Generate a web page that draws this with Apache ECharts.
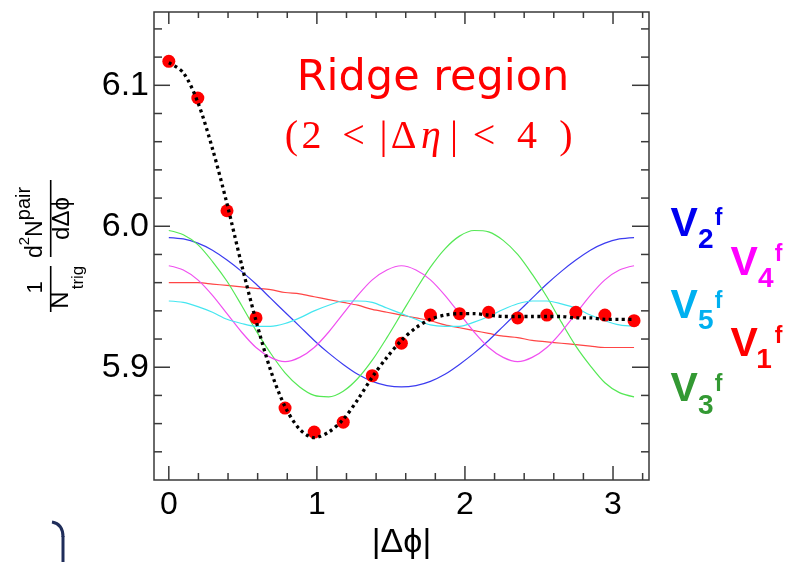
<!DOCTYPE html>
<html>
<head>
<meta charset="utf-8">
<script src="https://cdn.jsdelivr.net/npm/echarts@6/dist/echarts.min.js"></script>
<style>html,body{margin:0;padding:0;background:#fff;}#c{width:785px;height:562px;}</style>
</head>
<body>
<div id="c"></div>
<script>
// ---- data ----
// measured points (red markers)
const phiPoints = [0, 0.196, 0.393, 0.589, 0.785, 0.982, 1.178, 1.374, 1.571, 1.767, 1.963, 2.160, 2.356, 2.553, 2.749, 2.945, 3.142];
const measured = [6.117, 6.091, 6.011, 5.935, 5.871, 5.854, 5.861, 5.894, 5.917, 5.937, 5.938, 5.939, 5.935, 5.937, 5.939, 5.937, 5.933];
// curves, read at finer |Δφ| steps
const phiCurve = [0, 0.098, 0.196, 0.295, 0.393, 0.491, 0.589, 0.687, 0.785, 0.884, 0.982, 1.080, 1.178, 1.276, 1.374, 1.473, 1.571, 1.669, 1.767, 1.865, 1.963, 2.062, 2.160, 2.258, 2.356, 2.454, 2.553, 2.651, 2.749, 2.847, 2.945, 3.043, 3.142];
const fitCurve = [6.116, 6.109, 6.088, 6.055, 6.016, 5.973, 5.933, 5.898, 5.872, 5.856, 5.850, 5.854, 5.863, 5.877, 5.893, 5.907, 5.919, 5.928, 5.934, 5.937, 5.938, 5.938, 5.937, 5.936, 5.936, 5.936, 5.936, 5.936, 5.935, 5.935, 5.934, 5.934, 5.934];
const v1f = [5.960, 5.960, 5.960, 5.959, 5.958, 5.957, 5.956, 5.955, 5.953, 5.952, 5.950, 5.948, 5.946, 5.944, 5.941, 5.939, 5.937, 5.935, 5.933, 5.930, 5.928, 5.926, 5.924, 5.922, 5.921, 5.919, 5.918, 5.917, 5.916, 5.915, 5.914, 5.914, 5.914];
const v2f = [5.992, 5.991, 5.988, 5.983, 5.976, 5.968, 5.959, 5.949, 5.939, 5.929, 5.919, 5.910, 5.902, 5.895, 5.890, 5.887, 5.886, 5.887, 5.890, 5.895, 5.902, 5.910, 5.919, 5.929, 5.939, 5.949, 5.959, 5.968, 5.976, 5.983, 5.988, 5.991, 5.992];
const v3f = [5.997, 5.994, 5.987, 5.975, 5.961, 5.944, 5.926, 5.910, 5.896, 5.886, 5.880, 5.879, 5.883, 5.892, 5.905, 5.921, 5.938, 5.955, 5.971, 5.984, 5.993, 5.997, 5.996, 5.990, 5.980, 5.966, 5.950, 5.932, 5.915, 5.901, 5.889, 5.882, 5.879];
const v4f = [5.972, 5.969, 5.962, 5.951, 5.938, 5.925, 5.914, 5.907, 5.904, 5.907, 5.914, 5.925, 5.938, 5.951, 5.962, 5.969, 5.972, 5.969, 5.962, 5.951, 5.938, 5.925, 5.914, 5.907, 5.904, 5.907, 5.914, 5.925, 5.938, 5.951, 5.962, 5.969, 5.972];
const v5f = [5.947, 5.946, 5.943, 5.939, 5.934, 5.931, 5.929, 5.929, 5.931, 5.935, 5.940, 5.944, 5.947, 5.947, 5.946, 5.942, 5.938, 5.934, 5.930, 5.929, 5.929, 5.932, 5.936, 5.941, 5.945, 5.947, 5.947, 5.945, 5.942, 5.937, 5.933, 5.930, 5.929];

// tick values
const xMajorTicks = [0, 1, 2, 3];
const xMinorTicks = [0.2, 0.4, 0.6, 0.8, 1.2, 1.4, 1.6, 1.8, 2.2, 2.4, 2.6, 2.8, 3.2];
const yMajorTicks = [5.9, 6.0, 6.1];
const yMinorTicks = [5.84, 5.86, 5.88, 5.92, 5.94, 5.96, 5.98, 6.02, 6.04, 6.06, 6.08, 6.12, 6.14];

const harmonicNames = ['V1f', 'V2f', 'V3f', 'V4f', 'V5f'];
const harmonicColors = ['#ff4545', '#3c3cf0', '#55e855', '#f050f0', '#45e6f0'];
const harmonicValues = [v1f, v2f, v3f, v4f, v5f];

// ---- chart ----
const chart = echarts.init(document.getElementById('c'), null, {renderer: 'canvas'});
const pairs = (xs, ys) => xs.map((x, i) => [x, ys[i]]);

const X_MIN = -0.1, X_MAX = 3.243, Y_MIN = 5.82, Y_MAX = 6.152;
const axisCol = '#3a3a3a';

const series = [];
harmonicValues.forEach((vals, i) => {
  series.push({
    name: harmonicNames[i], type: 'line',
    data: pairs(phiCurve, vals), smooth: 0.3, showSymbol: false, symbol: 'none',
    lineStyle: {color: harmonicColors[i], width: 1.2}, z: 2, silent: true
  });
});
series.push({
  name: 'data', type: 'scatter',
  data: pairs(phiPoints, measured), symbol: 'circle', symbolSize: 13,
  itemStyle: {color: '#ff0000', opacity: 1}, z: 3
});
series.push({
  name: 'fit', type: 'line',
  data: pairs(phiCurve, fitCurve), smooth: 0.3, showSymbol: false, symbol: 'none',
  lineStyle: {color: '#000', width: 3.3, type: [3, 3.5]}, z: 4
});

const serif = 'Liberation Serif';
const sans = 'Liberation Sans';
function rt(text, x, y, size) {
  return {type: 'text', x: x, y: y, rotation: Math.PI / 2,
    style: {text: text, fontSize: size, fontFamily: sans, fill: '#000', align: 'center', verticalAlign: 'middle'}};
}
function lg(text, x, y, size, color) {
  return {type: 'text', x: x, y: y, style: {text: text, fontSize: size, fontFamily: sans, fontWeight: 'bold', fill: color, align: 'center', verticalAlign: 'middle'}};
}
function tk(text, x, italic) {
  return {type: 'text', x: x, y: 137, style: {text: text, fontSize: 40, fontFamily: serif, fontStyle: italic ? 'italic' : 'normal', fill: '#ff0000', align: 'center', verticalAlign: 'middle'}};
}

const graphic = [
  // annotation
  {type: 'text', x: 433, y: 79, style: {text: 'Ridge region', fontSize: 43, fontFamily: 'DejaVu Sans', fill: '#ff0000', align: 'center', verticalAlign: 'middle'}},
  tk('(', 291.5), tk('2', 311.5), tk('<', 353.5), tk('|', 383.5), tk('Δ', 403.5), tk('η', 431, true), tk('|', 454), tk('<', 484), tk('4', 527), tk(')', 566),
  // y-axis title (rotated)
  rt('1', 35.5, 287.5, 22),
  {type: 'line', shape: {x1: 50.7, y1: 266, x2: 50.7, y2: 312}, style: {stroke: '#000', lineWidth: 1.6}},
  rt('N', 61.6, 300, 24),
  rt('trig', 78, 277.5, 17),
  {type: 'line', shape: {x1: 50.7, y1: 180, x2: 50.7, y2: 257}, style: {stroke: '#000', lineWidth: 1.6}},
  rt('d', 35.8, 251.6, 23),
  rt('2', 25, 241, 15),
  rt('N', 35.8, 228.7, 23),
  rt('pair', 24, 203.5, 20),
  rt('dΔϕ', 62.5, 218.5, 24),
  // x-axis title
  {type: 'text', x: 401.5, y: 543, style: {text: '|Δϕ|', fontSize: 34, fontFamily: sans, fill: '#000', align: 'center', verticalAlign: 'middle'}},
  // harmonic legend
  lg('V', 684.2, 225, 41, '#0000f0'), lg('2', 705.8, 240, 28, '#0000f0'), lg('f', 718.5, 219, 23, '#0000f0'),
  lg('V', 744.2, 263.3, 41, '#ff00ff'), lg('4', 765.8, 279, 28, '#ff00ff'), lg('f', 778.5, 255, 23, '#ff00ff'),
  lg('V', 684.2, 306.7, 41, '#00b0f0'), lg('5', 705.8, 321.7, 28, '#00b0f0'), lg('f', 718.5, 301.7, 23, '#00b0f0'),
  lg('V', 744.2, 345, 41, '#ff0000'), lg('1', 764, 360, 28, '#ff0000'), lg('f', 778.5, 336.7, 23, '#ff0000'),
  lg('V', 684.2, 390, 41, '#339933'), lg('3', 705.8, 405.8, 28, '#339933'), lg('f', 718.5, 385, 23, '#339933'),
  // stray bracket at lower left
  {type: 'bezierCurve', shape: {x1: 52, y1: 522, cpx1: 63, cpy1: 524, x2: 63, y2: 537}, style: {stroke: '#1f2d5a', lineWidth: 3, fill: null}},
  {type: 'line', shape: {x1: 63, y1: 536, x2: 63, y2: 562}, style: {stroke: '#1f2d5a', lineWidth: 3}}
];

chart.setOption({
  animation: false,
  backgroundColor: '#ffffff',
  grid: {left: 154, right: 136, top: 12, bottom: 82, show: true, borderColor: axisCol, borderWidth: 1.5, backgroundColor: 'transparent'},
  xAxis: {
    type: 'value', min: X_MIN, max: X_MAX,
    axisLine: {show: false, onZero: false}, axisTick: {show: false}, splitLine: {show: false},
    axisLabel: {show: true, customValues: xMajorTicks, fontSize: 32, margin: 9, color: '#000', fontFamily: sans}
  },
  yAxis: {
    type: 'value', min: Y_MIN, max: Y_MAX,
    axisLine: {show: false, onZero: false}, axisTick: {show: false}, splitLine: {show: false},
    axisLabel: {show: true, customValues: yMajorTicks, fontSize: 34, margin: 5, color: '#000', fontFamily: sans, formatter: v => v.toFixed(1)}
  },
  series: series
});

// inward tick marks on all four frame sides, placed through the chart's own axis scales
const tickLines = [];
const tickStyle = {stroke: axisCol, lineWidth: 1.5};
const toPx = (pt) => chart.convertToPixel({gridIndex: 0}, pt);
function addXTicks(vals, lenBottom, lenTop) {
  vals.forEach(v => {
    const b = toPx([v, Y_MIN]);
    const t = toPx([v, Y_MAX]);
    tickLines.push({type: 'line', z: 100, shape: {x1: b[0], y1: b[1], x2: b[0], y2: b[1] - lenBottom}, style: tickStyle});
    tickLines.push({type: 'line', z: 100, shape: {x1: t[0], y1: t[1], x2: t[0], y2: t[1] + lenTop}, style: tickStyle});
  });
}
function addYTicks(vals, lenLeft, lenRight) {
  vals.forEach(v => {
    const l = toPx([X_MIN, v]);
    const r = toPx([X_MAX, v]);
    tickLines.push({type: 'line', z: 100, shape: {x1: l[0], y1: l[1], x2: l[0] + lenLeft, y2: l[1]}, style: tickStyle});
    tickLines.push({type: 'line', z: 100, shape: {x1: r[0], y1: r[1], x2: r[0] - lenRight, y2: r[1]}, style: tickStyle});
  });
}
addXTicks(xMajorTicks, 14, 12);
addXTicks(xMinorTicks, 7, 6);
addYTicks(yMajorTicks, 16, 17);
addYTicks(yMinorTicks, 8, 8);

chart.setOption({graphic: graphic.concat(tickLines)});
</script>
</body>
</html>
